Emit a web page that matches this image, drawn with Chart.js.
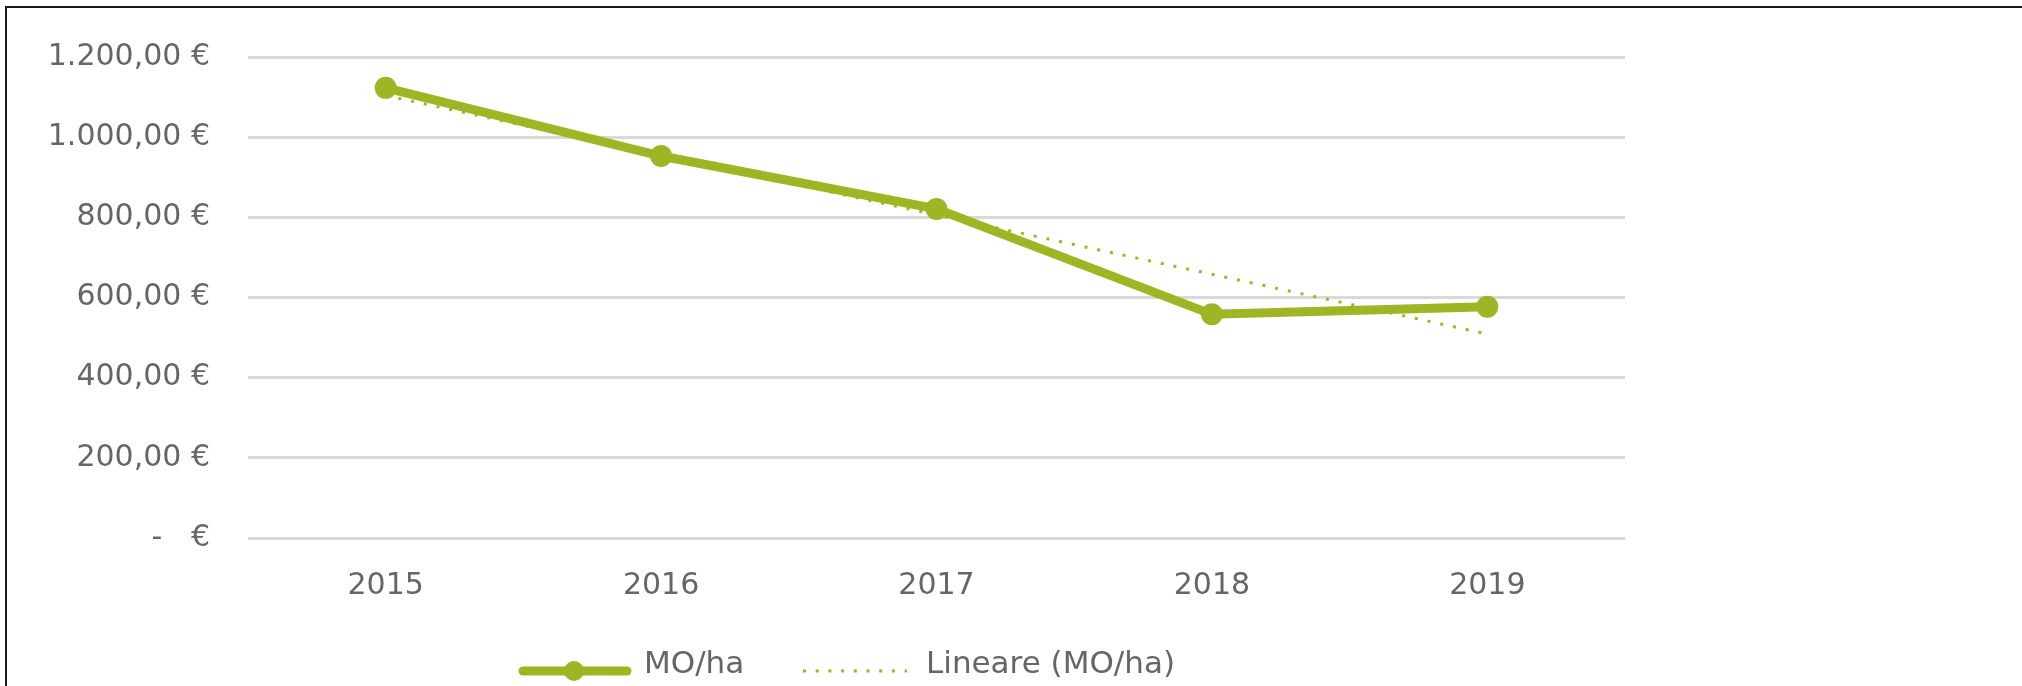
<!DOCTYPE html>
<html>
<head>
<meta charset="utf-8">
<script src="https://cdn.jsdelivr.net/npm/chart.js@4.4.1/dist/chart.umd.min.js"></script>
<style>
    html, body { margin: 0; padding: 0; background: #fff; overflow: hidden; }
    #wrap { position: absolute; left: 0; top: 0; width: 2022px; height: 686px; }
    #frame { position: absolute; left: 5px; top: 6px; width: 2100px; height: 800px;
             border: 2px solid #1a1a1a; pointer-events: none; }
    .lg { position: absolute; top: 644px; height: 36px; line-height: 36px;
          font: 31px "DejaVu Sans", sans-serif; color: #666; white-space: nowrap; }
    .lg svg { display: block; }
</style>
</head>
<body>
<div id="wrap"><canvas id="moChart"></canvas></div>
<div id="frame"></div>
<!-- legend -->
<div class="lg" style="left:518px; top:660px; height:22px;">
    <svg width="114" height="22"><line x1="5" y1="11" x2="109" y2="11" stroke="#9FB523" stroke-width="9" stroke-linecap="round"/><circle cx="56" cy="11" r="10" fill="#9FB523"/></svg>
</div>
<div class="lg" style="left:644px;">MO/ha</div>
<div class="lg" style="left:803px; top:660px; height:22px;">
    <svg width="104" height="22"><line x1="0" y1="11" x2="104" y2="11" stroke="#9FB523" stroke-width="3" stroke-dasharray="3 9.7"/></svg>
</div>
<div class="lg" style="left:926px;">Lineare (MO/ha)</div>
<script>
// ─── data ───
const years = ['2015', '2016', '2017', '2018', '2019'];
const moPerHa = [1123, 953, 821, 558, 577];
const trendMoPerHa = [1104, 955, 806, 658, 509];
const yTicks = [0, 200, 400, 600, 800, 1000, 1200];
const yTickLabels = ['-   €', '200,00 €', '400,00 €', '600,00 €', '800,00 €', '1.000,00 €', '1.200,00 €'];

const green = '#9FB523';
const textGrey = '#666666';
const fontFamily = '"DejaVu Sans", sans-serif';

new Chart(document.getElementById('moChart'), {
    type: 'line',
    data: {
        labels: years,
        datasets: [{
            label: 'MO/ha',
            data: moPerHa,
            borderColor: green,
            backgroundColor: green,
            borderWidth: 9,
            pointRadius: 11,
            pointBackgroundColor: green,
            pointBorderWidth: 0,
            tension: 0,
            order: 2
        }, {
            label: 'Lineare (MO/ha)',
            data: trendMoPerHa,
            borderColor: green,
            backgroundColor: green,
            borderWidth: 3,
            borderDash: [3, 10],
            pointRadius: 0,
            tension: 0,
            order: 1
        }]
    },
    options: {
        responsive: true,
        maintainAspectRatio: false,
        animation: false,
        layout: { padding: { top: 57, right: 397, left: 0, bottom: 0 } },
        scales: {
            x: {
                offset: true,
                grid: { display: false },
                border: { display: false },
                ticks: { color: textGrey, font: { family: fontFamily, size: 30 }, padding: 22 },
                afterFit: (s) => { s.height = 148; }
            },
            y: {
                min: 0,
                max: 1200,
                afterBuildTicks: (s) => { s.ticks = yTicks.map(v => ({ value: v })); },
                grid: { color: '#D9D9D9', lineWidth: 3, drawTicks: false },
                border: { display: false },
                ticks: {
                    color: textGrey,
                    font: { family: fontFamily, size: 30 },
                    padding: 38,
                    callback: (v) => yTickLabels[yTicks.indexOf(v)]
                },
                afterFit: (s) => { s.width = 248; }
            }
        },
        plugins: {
            tooltip: { enabled: false },
            legend: { display: false }
        }
    }
});
</script>
</body>
</html>
